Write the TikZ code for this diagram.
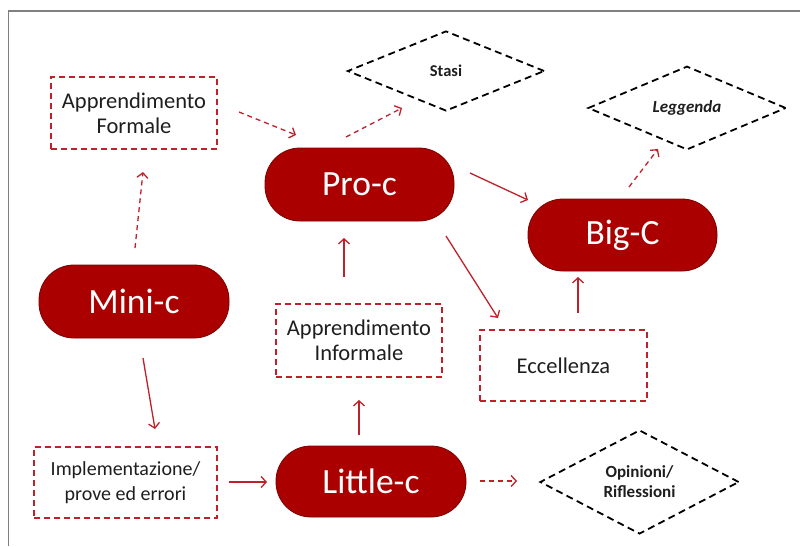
\documentclass[tikz,border=0pt]{standalone}
\usepackage{fontspec}
\setmainfont{Carlito}
\usetikzlibrary{shapes.geometric,arrows.meta}
\definecolor{pillred}{HTML}{AA0000}
\definecolor{pilledge}{HTML}{7A0000}
\definecolor{linered}{HTML}{C0202A}
\definecolor{txt}{HTML}{1E1E1E}
\definecolor{frame}{HTML}{808080}
\tikzset{
  pill/.style={rectangle, rounded corners=35pt, fill=pillred, draw=pilledge, line width=0.8pt,
    text=white, font=\fontsize{35.5}{40}\selectfont, inner sep=0pt},
  dbox/.style={rectangle, draw=linered, line width=2pt, dash pattern=on 6pt off 4pt,
    text=txt, align=center, inner sep=0pt, font=\fontsize{22.5}{25}\selectfont},
  ddiam/.style={diamond, draw=black, line width=1.8pt, dash pattern=on 7pt off 4.5pt,
    text=txt, align=center, inner sep=0pt, font=\bfseries\fontsize{17}{20}\selectfont},
  solidarr/.style={draw=linered, line width=1.3pt, -{Straight Barb[length=5pt,width=11pt]}},
  dasharr/.style={solidarr, dash pattern=on 5pt off 4pt},
}
\begin{document}
\begin{tikzpicture}[x=1pt,y=-1pt]
\useasboundingbox (0,0) rectangle (800,546);
\draw[frame, line width=1.3pt] (8.5,546) -- (8.5,11) -- (800,11);

% nodes
\node[dbox, minimum width=166pt, minimum height=72pt] (appf) at (134,113) {Apprendimento\\Formale};
\node[pill, minimum width=189pt, minimum height=73pt] (proc) at (359.5,184.5) {Pro-c};
\node[ddiam, minimum width=197pt, minimum height=80pt, font=\bfseries\fontsize{16.5}{20}\selectfont] (stasi) at (446,71) {Stasi};
\node[ddiam, minimum width=198pt, minimum height=80pt] (legg) at (687,108) {\itshape Leggenda};
\node[pill, minimum width=189pt, minimum height=72pt] (bigc) at (622.5,235) {Big-C};
\node[pill, minimum width=190pt, minimum height=73pt] (minic) at (134,301.5) {Mini-c};
\node[dbox, minimum width=166pt, minimum height=73pt] (appi) at (359,340.5) {Apprendimento\\Informale};
\node[dbox, minimum width=167pt, minimum height=71pt] (ecc) at (563.5,365.5) {Eccellenza};
\node[dbox, minimum width=183pt, minimum height=71pt, font=\fontsize{20}{25}\selectfont] (impl) at (125.5,482.5) {Implementazione/\\prove ed errori};
\node[pill, minimum width=190pt, minimum height=71pt] (littlec) at (371,481.5) {Little-c};
\node[ddiam, minimum width=199pt, minimum height=80pt] (opin) at (639.5,482) {Opinioni/\\Riflessioni};

% connector end points (arrows stop short of the nodes)
\coordinate (c1s) at (239,112); \coordinate (c1e) at (296,135);
\coordinate (c2s) at (346,137); \coordinate (c2e) at (402,108);
\coordinate (c3s) at (135,248); \coordinate (c3e) at (143,172);
\coordinate (c4s) at (344,277); \coordinate (c4e) at (344,238);
\coordinate (c5s) at (470,173); \coordinate (c5e) at (528,200);
\coordinate (c6s) at (629,187); \coordinate (c6e) at (658,149);
\coordinate (c7s) at (446,236); \coordinate (c7e) at (498,318);
\coordinate (c8s) at (578,313); \coordinate (c8e) at (578,277);
\coordinate (c9s) at (143,358); \coordinate (c9e) at (155,429);
\coordinate (c10s) at (229,482); \coordinate (c10e) at (267,482);
\coordinate (c11s) at (359,435); \coordinate (c11e) at (359,400);
\coordinate (c12s) at (480,481); \coordinate (c12e) at (517,481);

\draw[dasharr] (c1s) -- (c1e);
\draw[dasharr] (c2s) -- (c2e);
\draw[dasharr] (c3s) -- (c3e);
\draw[solidarr] (c4s) -- (c4e);
\draw[solidarr] (c5s) -- (c5e);
\draw[dasharr] (c6s) -- (c6e);
\draw[solidarr] (c7s) -- (c7e);
\draw[solidarr] (c8s) -- (c8e);
\draw[solidarr] (c9s) -- (c9e);
\draw[solidarr] (c10s) -- (c10e);
\draw[solidarr] (c11s) -- (c11e);
\draw[dasharr] (c12s) -- (c12e);
\end{tikzpicture}
\end{document}
